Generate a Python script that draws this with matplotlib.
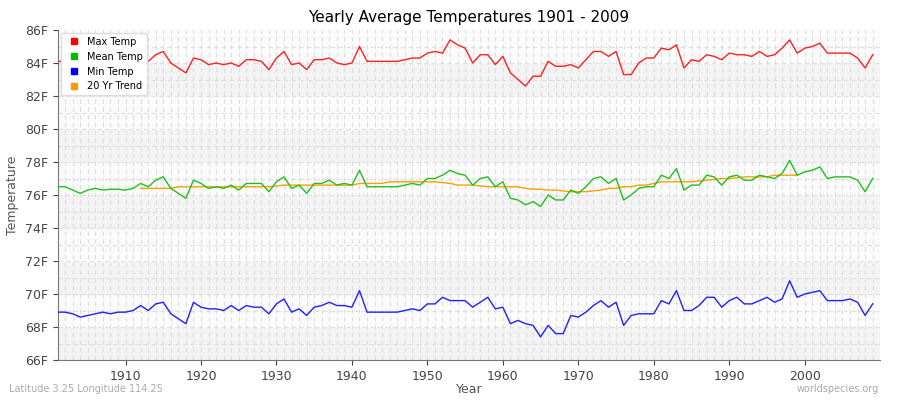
import numpy as np
import matplotlib.pyplot as plt

years = list(range(1901, 2010))
mean_temp = [76.5, 76.5, 76.3, 76.1, 76.3, 76.4, 76.3, 76.35, 76.35, 76.3,
             76.4, 76.7, 76.5, 76.9, 77.1, 76.4, 76.1, 75.8, 76.9, 76.7,
             76.4, 76.5, 76.4, 76.6, 76.3, 76.7, 76.7, 76.7, 76.2, 76.8,
             77.1, 76.4, 76.6, 76.1, 76.7, 76.7, 76.9, 76.6, 76.7, 76.6,
             77.5, 76.5, 76.5, 76.5, 76.5, 76.5, 76.6, 76.7, 76.6, 77.0,
             77.0, 77.2, 77.5, 77.3, 77.2, 76.6, 77.0, 77.1, 76.5, 76.8,
             75.8, 75.7, 75.4, 75.6, 75.3, 76.0, 75.7, 75.7, 76.3, 76.1,
             76.5, 77.0, 77.1, 76.7, 77.0, 75.7, 76.0, 76.4, 76.5, 76.5,
             77.2, 77.0, 77.6, 76.3, 76.6, 76.6, 77.2, 77.1, 76.6, 77.1,
             77.2, 76.9, 76.9, 77.2, 77.1, 77.0, 77.3, 78.1, 77.2, 77.4,
             77.5, 77.7, 77.0, 77.1, 77.1, 77.1, 76.9, 76.2, 77.0]
max_temp = [84.1, 84.1, 83.9, 83.7, 83.9, 84.0, 83.9, 83.95, 83.95, 83.9,
            84.0, 84.3, 84.1, 84.5, 84.7, 84.0, 83.7, 83.4, 84.3, 84.2,
            83.9, 84.0, 83.9, 84.0, 83.8, 84.2, 84.2, 84.1, 83.6, 84.3,
            84.7, 83.9, 84.0, 83.6, 84.2, 84.2, 84.3, 84.0, 83.9, 84.0,
            85.0, 84.1, 84.1, 84.1, 84.1, 84.1, 84.2, 84.3, 84.3, 84.6,
            84.7, 84.6, 85.4, 85.1, 84.9, 84.0, 84.5, 84.5, 83.9, 84.4,
            83.4, 83.0, 82.6, 83.2, 83.2, 84.1, 83.8, 83.8, 83.9, 83.7,
            84.2, 84.7, 84.7, 84.4, 84.7, 83.3, 83.3, 84.0, 84.3, 84.3,
            84.9, 84.8, 85.1, 83.7, 84.2, 84.1, 84.5, 84.4, 84.2, 84.6,
            84.5, 84.5, 84.4, 84.7, 84.4, 84.5, 84.9, 85.4, 84.6, 84.9,
            85.0, 85.2, 84.6, 84.6, 84.6, 84.6, 84.3, 83.7, 84.5]
min_temp = [68.9, 68.9, 68.8, 68.6, 68.7, 68.8, 68.9, 68.8, 68.9, 68.9,
            69.0, 69.3, 69.0, 69.4, 69.5, 68.8, 68.5, 68.2, 69.5, 69.2,
            69.1, 69.1, 69.0, 69.3, 69.0, 69.3, 69.2, 69.2, 68.8, 69.4,
            69.7, 68.9, 69.1, 68.7, 69.2, 69.3, 69.5, 69.3, 69.3, 69.2,
            70.2, 68.9, 68.9, 68.9, 68.9, 68.9, 69.0, 69.1, 69.0, 69.4,
            69.4, 69.8, 69.6, 69.6, 69.6, 69.2, 69.5, 69.8, 69.1, 69.2,
            68.2, 68.4, 68.2, 68.1, 67.4, 68.1, 67.6, 67.6, 68.7, 68.6,
            68.9, 69.3, 69.6, 69.2, 69.5, 68.1, 68.7, 68.8, 68.8, 68.8,
            69.6, 69.4, 70.2, 69.0, 69.0, 69.3, 69.8, 69.8, 69.2, 69.6,
            69.8, 69.4, 69.4, 69.6, 69.8, 69.5, 69.7, 70.8, 69.8, 70.0,
            70.1, 70.2, 69.6, 69.6, 69.6, 69.7, 69.5, 68.7, 69.4]
trend_years = list(range(1912, 2000))
trend = [76.4, 76.4, 76.4, 76.4, 76.4, 76.5, 76.5, 76.5, 76.5, 76.5,
         76.5, 76.5, 76.5, 76.5, 76.5, 76.5, 76.5, 76.5, 76.55, 76.6,
         76.6, 76.6, 76.6, 76.6, 76.6, 76.6, 76.6, 76.6, 76.6, 76.7,
         76.7, 76.7, 76.7, 76.8, 76.8, 76.8, 76.8, 76.8, 76.8, 76.8,
         76.75, 76.7, 76.6, 76.6, 76.6, 76.55, 76.5, 76.5, 76.5, 76.5,
         76.5, 76.4, 76.35, 76.35, 76.3, 76.3, 76.25, 76.2, 76.2, 76.2,
         76.25, 76.3, 76.4, 76.4, 76.5, 76.5, 76.6, 76.6, 76.7, 76.8,
         76.8, 76.8, 76.8, 76.8, 76.85, 76.9, 76.95, 77.0, 77.0, 77.05,
         77.1, 77.1, 77.1, 77.1, 77.2, 77.2, 77.2, 77.2]

fig = plt.figure(figsize=(9, 4), dpi=100)
ax = fig.add_axes([0.064, 0.1, 0.914, 0.825])

# alternating bands
for lo in range(66, 86, 2):
    ax.axhspan(lo, lo + 2, color='#f3f3f3' if (lo // 2) % 2 == 1 else '#fbfbfb', zorder=0)
for y in np.arange(67, 86, 1.0):
    ax.axhline(y, color='#e0e0e0', lw=0.8, ls=(0, (4, 3)), zorder=1)
for x in years + [2010]:
    ax.axvline(x, color='#dddddd', lw=0.8, ls=(0, (4, 3)), zorder=1)

ax.plot(years, max_temp, color='#ff2020', lw=1, label='Max Temp', zorder=3)
ax.plot(years, mean_temp, color='#20c020', lw=1, label='Mean Temp', zorder=3)
ax.plot(years, min_temp, color='#2020ff', lw=1, label='Min Temp', zorder=3)
ax.plot(trend_years, trend, color='#ffa000', lw=1, label='20 Yr Trend', zorder=2)

ax.set_xlim(1901, 2010)
ax.set_ylim(66, 86)
ax.set_yticks(range(66, 87, 2))
ax.set_yticklabels([f'{t}F' for t in range(66, 87, 2)])
ax.set_xticks(range(1910, 2010, 10))
ax.tick_params(colors='#444444', labelsize=9)
for s in ['top', 'right']:
    ax.spines[s].set_visible(False)
for s in ['left', 'bottom']:
    ax.spines[s].set_color('#777777')
ax.set_title('Yearly Average Temperatures 1901 - 2009', fontsize=11)
ax.set_xlabel('Year', color='#555555', fontsize=9, labelpad=0)
ax.set_ylabel('Temperature', color='#555555', fontsize=9)

handles = [plt.Line2D([], [], marker='s', ls='', color=c, markersize=4)
           for c in ['#ff0000', '#00bb00', '#0000ff', '#ff9900']]
ax.legend(handles, ['Max Temp', 'Mean Temp', 'Min Temp', '20 Yr Trend'],
          loc='upper left', fontsize=7, handletextpad=0.3, framealpha=1,
          edgecolor='#dddddd', borderaxespad=0.3)

fig.text(0.01, 0.02, 'Latitude 3.25 Longitude 114.25', color='#aaaaaa', fontsize=7)
fig.text(0.977, 0.02, 'worldspecies.org', color='#aaaaaa', fontsize=7, ha='right')

fig.savefig('out.png', dpi=100)
